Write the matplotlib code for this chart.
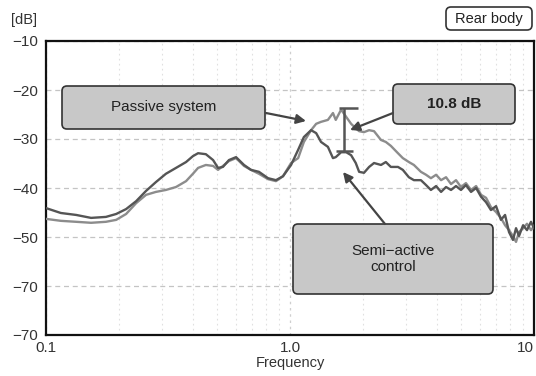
import matplotlib
matplotlib.use("Agg")
import matplotlib.pyplot as plt
from matplotlib.patches import FancyBboxPatch

plt.rcParams['font.family'] = ['Liberation Sans', 'DejaVu Sans']

# ---- data ----
freq = [0.100, 0.115, 0.133, 0.153, 0.176, 0.194, 0.213, 0.234, 0.257, 0.282,
        0.310, 0.341, 0.375, 0.400, 0.420, 0.452, 0.484, 0.507, 0.531, 0.562,
        0.601, 0.648, 0.692, 0.746, 0.813, 0.876, 0.936, 1.01, 1.08, 1.14,
        1.22, 1.28, 1.34, 1.43, 1.50, 1.54, 1.62, 1.70, 1.78, 1.86,
        1.92, 2.01, 2.11, 2.21, 2.36, 2.47, 2.59, 2.77, 2.90, 3.07,
        3.22, 3.44, 3.61, 3.78, 3.97, 4.16, 4.36, 4.57, 4.79, 5.02,
        5.26, 5.52, 5.79, 6.07, 6.36, 6.66, 6.99, 7.32, 7.61, 7.90,
        8.20, 8.44, 8.68, 9.02, 9.36, 9.72, 10.0]

semi_active = [-44.1, -45.1, -45.5, -46.1, -45.9, -45.3, -44.3, -42.7, -40.6, -38.8,
               -37.1, -35.9, -34.7, -33.5, -32.9, -33.1, -34.3, -35.9, -35.7, -34.3,
               -33.7, -35.3, -36.3, -36.7, -38.0, -38.4, -37.6, -35.3, -32.2, -29.6,
               -28.2, -28.8, -30.6, -31.6, -33.9, -33.7, -32.7, -32.7, -33.3, -34.9,
               -36.7, -36.9, -35.7, -34.9, -35.3, -34.7, -35.7, -35.7, -36.3, -37.8,
               -38.4, -38.4, -39.4, -40.4, -39.6, -40.8, -39.8, -40.4, -39.6, -40.4,
               -39.4, -40.8, -40.0, -41.8, -42.9, -44.5, -43.7, -46.5, -45.5, -49.0,
               -50.6, -48.2, -49.8, -47.6, -48.6, -46.9, -48.2]

passive = [-46.3, -46.7, -46.9, -47.1, -46.9, -46.5, -45.3, -43.1, -41.4, -40.8,
           -40.4, -39.8, -38.6, -37.1, -35.9, -35.3, -35.5, -36.3, -35.5, -34.5,
           -33.9, -35.5, -36.3, -37.1, -38.2, -38.6, -37.6, -34.9, -33.9, -30.6,
           -28.2, -26.9, -26.5, -26.1, -24.7, -26.1, -24.0, -25.5, -26.9, -27.8,
           -28.4, -28.6, -28.2, -28.4, -30.2, -30.6, -31.4, -32.9, -33.9, -34.7,
           -35.3, -36.7, -37.3, -38.0, -37.3, -38.4, -37.8, -39.2, -38.4, -39.8,
           -39.0, -40.4, -39.6, -41.4, -42.0, -43.9, -44.9, -46.1, -47.6, -48.6,
           -49.8, -51.0, -49.0, -48.2, -47.3, -48.6, -47.8]

y_ticks = [-10, -20, -30, -40, -50, -60, -70]
y_tick_labels = ['\u221210', '\u221220', '\u221230', '\u221240', '\u221250', '\u221270', '\u221270']
x_ticks = [0.1, 1.0, 10]
x_tick_labels = ['0.1', '1.0', '10']

# 10.8 dB marker (data coordinates)
bar_freq = 1.66
bar_top = -23.7
bar_bottom = -32.4

# ---- figure ----
W, H = 536, 376
fig = plt.figure(figsize=(W / 100, H / 100), dpi=100)
ax = fig.add_axes([46 / W, (H - 335) / H, (534 - 46) / W, 294 / H])

ax.set_xscale('log')
ax.set_xlim(0.1, 10)
ax.set_ylim(-70, -10)

ax.plot(freq, passive, color='#8c8c8c', lw=1.7, zorder=3)
ax.plot(freq, semi_active, color='#555555', lw=1.7, zorder=4)

# grid
ax.set_yticks(y_ticks)
ax.set_yticklabels(y_tick_labels)
ax.set_xticks(x_ticks)
ax.set_xticklabels(x_tick_labels)
ax.xaxis.set_minor_locator(matplotlib.ticker.LogLocator(base=10, subs=range(2, 10)))
ax.xaxis.set_minor_formatter(matplotlib.ticker.NullFormatter())
ax.grid(True, which='major', axis='y', color='#c4c4c4', ls=(0, (4, 3)), lw=0.9)
ax.grid(True, which='major', axis='x', color='#cfcfcf', ls=(0, (2, 3)), lw=0.9)
ax.grid(True, which='minor', axis='x', color='#e0e0e0', ls=(0, (1.5, 3)), lw=0.8)
ax.set_axisbelow(True)

ax.tick_params(which='both', length=0)
ax.tick_params(axis='y', pad=6, labelsize=11, labelcolor='#333333')
ax.tick_params(axis='x', pad=4, labelsize=11, labelcolor='#333333')
xl = ax.get_xticklabels()
xl[-1].set_horizontalalignment('right')
xl[-1].set_x(10)
for s in ax.spines.values():
    s.set_linewidth(1.6)
    s.set_color('#111111')

ax.set_xlabel('Frequency', fontsize=10.5, color='#333333', labelpad=1)

# 10.8 dB bar
ax.vlines(bar_freq, bar_bottom, bar_top, color='#555555', lw=1.8, zorder=5)
ax.hlines(bar_top, 1.59, 1.90, color='#555555', lw=1.8, zorder=5)
ax.hlines(bar_bottom, 1.54, 1.82, color='#555555', lw=1.8, zorder=5)

# ---- annotations in pixel space (converted to inches) ----
T = fig.dpi_scale_trans


def P(x, y):
    return (x / 100, (H - y) / 100)


def box(x0, y0, x1, y1, fc, text, **kw):
    p = FancyBboxPatch(P(x0, y1), (x1 - x0) / 100, (y1 - y0) / 100,
                       boxstyle='round,pad=0,rounding_size=0.05',
                       transform=T, fc=fc, ec='#333333', lw=1.2, zorder=6,
                       clip_on=False)
    fig.add_artist(p)
    cx, cy = P((x0 + x1) / 2, (y0 + y1) / 2)
    fig.text(cx, cy, text, transform=T, ha='center', va='center',
             color='#222222', zorder=7, **kw)


def arrow(xt, yt, xh, yh):
    fig.add_artist(matplotlib.patches.FancyArrowPatch(
        P(xt, yt), P(xh, yh), transform=T, arrowstyle='-|>',
        mutation_scale=14, color='#444444', lw=1.6, zorder=6,
        shrinkA=0, shrinkB=0))


box(62, 86, 265, 129, '#c8c8c8', 'Passive system', fontsize=11)
arrow(266, 113, 306, 121)

box(393, 84, 515, 124, '#c8c8c8', '10.8 dB', fontsize=11, fontweight='bold')
arrow(393, 113, 350, 130)

box(293, 224, 493, 294, '#c8c8c8', 'Semi\u2212active\ncontrol', fontsize=11,
    linespacing=1.2)
arrow(385, 224, 343, 172)

box(446, 7, 532, 30, 'white', 'Rear body', fontsize=10.5)

fig.text(*P(24, 20), '[dB]', transform=T, ha='center', va='center',
         fontsize=10.5, color='#333333')

fig.savefig('out.png', dpi=100)
